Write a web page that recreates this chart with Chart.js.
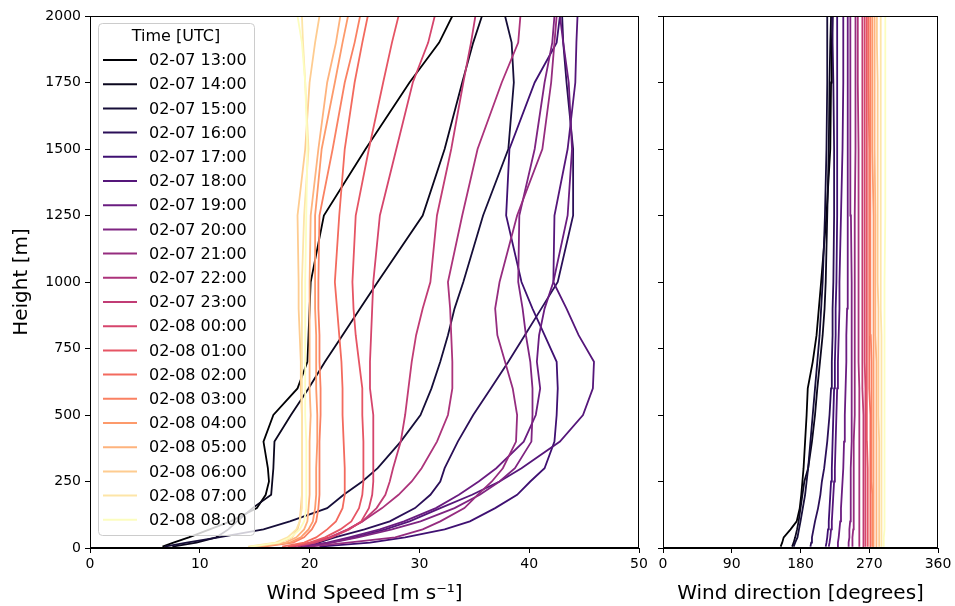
<!DOCTYPE html>
<html>
<head>
<meta charset="utf-8">
<script src="https://cdn.jsdelivr.net/npm/chart.js@4.4.0/dist/chart.umd.min.js"></script>
<style>
  html, body { margin: 0; padding: 0; background: #fff; }
  #wrap { position: relative; width: 955px; height: 606px; overflow: hidden; }
  #wrap canvas { position: absolute; top: 0; }
  #speedChart { left: 0; }
  #dirChart { left: 645px; }
</style>
</head>
<body>
<div id="wrap">
  <canvas id="speedChart" width="660" height="606"></canvas>
  <canvas id="dirChart" width="310" height="606"></canvas>
</div>
<script>
// profile times (legend order)
const timeLabels = [
    '02-07 13:00', '02-07 14:00', '02-07 15:00', '02-07 16:00', '02-07 17:00',
    '02-07 18:00', '02-07 19:00', '02-07 20:00', '02-07 21:00', '02-07 22:00',
    '02-07 23:00', '02-08 00:00', '02-08 01:00', '02-08 02:00', '02-08 03:00',
    '02-08 04:00', '02-08 05:00', '02-08 06:00', '02-08 07:00', '02-08 08:00',
];

// height levels [m]
const heights = [5, 20, 40, 70, 100, 150, 200, 250, 300, 400, 500, 600, 700, 800, 900, 1000, 1250, 1500, 1750, 1900, 2000];

// wind speed [m/s] at each height
const spd13 = [6.6, 7.6, 9.0, 10.9, 12.8, 15.2, 16.0, 16.3, 16.2, 15.8, 16.7, 18.9, 19.8, 19.9, 20.0, 20.1, 21.3, 25.1, 29.1, 31.8, 33.0];
const spd14 = [7.5, 9.7, 11.5, 12.6, 13.4, 14.8, 16.5, 16.6, 16.7, 16.8, 18.3, 19.9, 21.4, 23.0, 24.6, 26.2, 30.3, 32.3, 33.9, 34.9, 35.7];
const spd15 = [6.8, 8.8, 11.7, 15.8, 18.2, 21.6, 23.1, 24.8, 26.2, 28.3, 30.1, 31.1, 31.9, 32.6, 33.2, 34.0, 35.8, 38.1, 38.6, 38.4, 37.8];
const spd16 = [19.1, 20.8, 22.3, 25.0, 27.3, 29.6, 31.0, 31.9, 32.3, 33.5, 34.9, 36.5, 38.1, 39.6, 41.1, 42.6, 44.0, 44.0, 43.4, 43.1, 43.0];
const spd17 = [20.9, 25.5, 28.7, 32.3, 34.6, 36.9, 38.9, 40.1, 41.4, 42.3, 42.5, 42.6, 42.5, 41.4, 40.3, 39.3, 37.9, 38.2, 40.5, 42.5, 42.8];
const spd18 = [19.6, 21.9, 24.1, 26.9, 29.1, 31.9, 34.8, 37.3, 39.3, 42.8, 44.9, 45.8, 45.9, 44.5, 43.4, 42.2, 42.3, 43.5, 44.2, 44.3, 44.4];
const spd19 = [19.3, 21.6, 23.6, 26.4, 28.6, 31.5, 33.6, 35.4, 37.0, 39.5, 40.6, 41.0, 40.7, 40.9, 41.4, 42.2, 43.5, 43.9, 43.6, 43.1, 42.8];
const spd20 = [19.4, 22.0, 24.4, 27.5, 30.1, 33.2, 35.5, 37.3, 38.7, 40.2, 40.3, 40.3, 40.1, 39.7, 39.4, 39.0, 39.1, 40.5, 41.4, 42.1, 42.3];
const spd21 = [20.0, 23.5, 27.8, 30.3, 31.9, 34.1, 35.3, 36.6, 37.6, 38.8, 38.9, 38.5, 37.8, 37.1, 36.9, 37.3, 38.9, 41.2, 42.0, 42.3, 42.5];
const spd22 = [18.9, 20.5, 21.9, 23.5, 24.8, 26.6, 28.1, 29.3, 30.2, 31.6, 32.6, 33.0, 33.0, 32.9, 32.8, 32.6, 33.9, 35.3, 37.5, 39.0, 39.2];
const spd23 = [18.5, 20.1, 21.8, 23.5, 24.8, 26.1, 26.9, 27.3, 27.6, 28.3, 28.7, 29.0, 29.3, 29.7, 30.3, 31.0, 31.6, 32.9, 34.0, 34.7, 35.1];
const spd00 = [18.3, 20.5, 22.0, 23.6, 24.7, 25.4, 25.7, 25.8, 25.8, 25.8, 25.8, 25.5, 25.5, 25.6, 25.7, 25.8, 26.4, 27.9, 29.4, 30.8, 31.4];
const spd01 = [18.0, 20.0, 21.4, 22.8, 23.8, 24.5, 24.8, 24.9, 24.9, 24.9, 24.8, 24.8, 24.5, 24.2, 24.0, 23.9, 24.2, 25.4, 26.7, 27.5, 28.1];
const spd02 = [17.5, 19.5, 20.6, 21.6, 22.4, 23.0, 23.2, 23.2, 23.2, 23.1, 23.0, 23.0, 22.9, 22.7, 22.5, 22.3, 22.7, 23.2, 24.1, 24.8, 25.3];
const spd03 = [15.8, 18.5, 19.5, 20.2, 20.6, 20.8, 20.9, 20.9, 20.9, 20.9, 21.0, 21.0, 20.9, 20.9, 20.8, 20.8, 20.9, 22.1, 23.2, 24.1, 24.6];
const spd04 = [15.4, 18.2, 19.2, 19.9, 20.3, 20.5, 20.6, 20.6, 20.6, 20.7, 20.7, 20.6, 20.6, 20.6, 20.5, 20.5, 20.5, 21.1, 22.3, 23.0, 23.5];
const spd05 = [15.1, 17.8, 18.8, 19.5, 19.8, 19.9, 20.0, 20.0, 20.0, 20.0, 20.1, 20.0, 20.0, 20.0, 20.0, 20.0, 20.1, 20.8, 21.6, 22.4, 22.8];
const spd06 = [14.8, 17.3, 18.4, 18.9, 19.1, 19.2, 19.3, 19.3, 19.3, 19.3, 19.3, 19.2, 19.2, 19.1, 19.0, 19.0, 18.9, 19.6, 20.0, 20.5, 20.9];
const spd07 = [14.4, 16.9, 18.0, 18.8, 19.1, 19.3, 19.3, 19.3, 19.3, 19.3, 19.3, 19.3, 19.3, 19.3, 19.3, 19.3, 19.5, 19.9, 19.6, 19.4, 19.3];
const spd08 = [14.6, 17.2, 18.3, 19.1, 19.5, 19.7, 19.7, 19.7, 19.7, 19.7, 19.6, 19.6, 19.6, 19.6, 19.6, 19.6, 19.7, 19.8, 19.6, 19.3, 18.9];

// wind direction [deg] at each height
const dir13 = [154, 156, 158, 167, 175, 179, 181, 182.5, 184, 186, 188, 189.5, 196, 201, 204, 207, 214, 219, 220, 221, 222];
const dir14 = [169, 171, 173, 175.5, 177.5, 180, 182.5, 185, 190, 195, 199, 202, 205.5, 209, 211.5, 213, 215, 217, 218, 219, 220];
const dir15 = [171, 173, 176, 178, 180, 183, 186, 188, 190, 193, 196, 199, 202, 205, 207, 209, 212, 214, 215, 215, 215];
const dir16 = [193, 194, 195, 197, 199, 203, 206, 208, 211, 215, 218, 220, 221, 222, 222, 223, 224, 224, 223, 222, 222];
const dir17 = [213, 214, 215, 216, 217, 218, 219, 220, 221, 222, 223, 224, 225, 226, 226, 227, 228, 228, 228, 228, 228];
const dir18 = [217, 218, 219, 220, 221, 222, 223, 224, 225, 226, 227, 228, 229, 230, 231, 231, 233, 235, 236, 236, 236];
const dir19 = [228, 229, 230, 231, 232, 233, 234, 235, 236, 237, 238, 239, 240, 240, 241, 241, 242, 242, 242, 242, 242];
const dir20 = [243, 243, 244, 244, 245, 245, 246, 246, 246, 247, 247, 247, 247, 247, 247, 247, 246, 246, 245, 245, 245];
const dir21 = [248, 248, 248, 249, 249, 249, 250, 250, 250, 250, 251, 251, 251, 251, 251, 251, 251, 252, 252, 252, 252];
const dir22 = [257, 257, 257, 257, 257, 257, 257, 257, 257, 257, 257, 257, 256, 256, 256, 256, 256, 256, 255, 255, 255];
const dir23 = [263, 263, 263, 263, 263, 262, 262, 262, 262, 262, 262, 261, 261, 261, 261, 261, 261, 261, 261, 261, 261];
const dir00 = [265, 265, 265, 265, 265, 265, 265, 265, 265, 265, 265, 265, 264, 264, 264, 264, 264, 264, 264, 264, 264];
const dir01 = [268, 268, 268, 268, 268, 268, 268, 268, 268, 267, 267, 267, 267, 267, 267, 267, 267, 267, 267, 266, 266];
const dir02 = [272, 272, 272, 272, 272, 272, 271, 271, 271, 271, 271, 270, 270, 270, 270, 270, 270, 270, 269, 269, 269];
const dir03 = [274, 274, 274, 274, 274, 274, 274, 273, 273, 273, 273, 273, 273, 272, 272, 272, 272, 271, 271, 271, 271];
const dir04 = [276, 276, 276, 276, 276, 276, 276, 276, 276, 276, 276, 275, 275, 275, 275, 275, 275, 274, 274, 274, 274];
const dir05 = [280, 280, 280, 280, 280, 280, 279, 279, 279, 279, 279, 279, 279, 278, 278, 278, 278, 277, 277, 277, 277];
const dir06 = [283, 283, 283, 283, 283, 283, 283, 283, 283, 283, 282, 282, 282, 282, 282, 281, 281, 281, 281, 280, 280];
const dir07 = [286, 286, 286, 286, 286, 286, 286, 286, 286, 286, 286, 286, 286, 286, 285, 285, 285, 285, 285, 285, 285];
const dir08 = [289, 289, 289, 290, 290, 290, 290, 290, 290, 290, 290, 290, 290, 290, 290, 290, 291, 291, 291, 291, 291];

const speedProfiles = [spd13, spd14, spd15, spd16, spd17, spd18, spd19, spd20, spd21, spd22,
    spd23, spd00, spd01, spd02, spd03, spd04, spd05, spd06, spd07, spd08];
const dirProfiles = [dir13, dir14, dir15, dir16, dir17, dir18, dir19, dir20, dir21, dir22,
    dir23, dir00, dir01, dir02, dir03, dir04, dir05, dir06, dir07, dir08];

// magma colormap anchors
const MAGMA = ['#000004', '#140e36', '#3b0f70', '#641a80', '#8c2981', '#b73779',
    '#de4968', '#f7705c', '#fe9f6d', '#fecf92', '#fcfdbf'];

function hexToRgb(h) {
    return [1, 3, 5].map(i => parseInt(h.substr(i, 2), 16));
}

function magma(t) {
    const p = t * (MAGMA.length - 1);
    const i = Math.min(MAGMA.length - 2, Math.floor(p));
    const f = p - i;
    const a = hexToRgb(MAGMA[i]);
    const b = hexToRgb(MAGMA[i + 1]);
    const c = a.map((v, k) => Math.round(v + (b[k] - v) * f));
    return `rgb(${c[0]},${c[1]},${c[2]})`;
}

const lineColors = timeLabels.map((_, i) => magma(i / (timeLabels.length - 1)));

const FONT = 'DejaVu Sans, Liberation Sans, sans-serif';
Chart.defaults.font.family = FONT;
Chart.defaults.color = '#000';

function buildDatasets(profiles) {
    return profiles.map((vals, i) => ({
        label: timeLabels[i],
        data: heights.map((h, k) => ({ x: vals[k], y: h })),
        borderColor: lineColors[i],
        backgroundColor: lineColors[i],
        borderWidth: 1.8,
        pointRadius: 0,
        showLine: true,
        fill: false,
        // later profiles are drawn on top, like matplotlib
        order: profiles.length - 1 - i,
    }));
}

// full box around the plot area (all four spines)
const frameBox = {
    id: 'frameBox',
    afterDatasetsDraw(chart) {
        const { ctx, chartArea: a } = chart;
        ctx.save();
        ctx.strokeStyle = '#000';
        ctx.lineWidth = 1;
        ctx.strokeRect(Math.round(a.left) + 0.5, Math.round(a.top) + 0.5,
            Math.round(a.right - a.left) - 1, Math.round(a.bottom - a.top) - 1);
        ctx.restore();
    },
};

// matplotlib-like legend box inside the wind speed panel
const timeLegend = {
    id: 'timeLegend',
    afterDatasetsDraw(chart) {
        const { ctx, chartArea: a } = chart;
        const x0 = a.left + 8;
        const y0 = a.top + 7;
        const w = 156;
        const h = 512;
        ctx.save();
        ctx.beginPath();
        ctx.roundRect(x0 + 0.5, y0 + 0.5, w, h, 4);
        ctx.fillStyle = 'rgba(255,255,255,0.8)';
        ctx.fill();
        ctx.strokeStyle = '#cccccc';
        ctx.lineWidth = 1;
        ctx.stroke();

        ctx.fillStyle = '#000';
        ctx.font = `16px ${FONT}`;
        ctx.textBaseline = 'middle';
        ctx.textAlign = 'center';
        ctx.fillText('Time [UTC]', x0 + w / 2, y0 + 14);

        ctx.textAlign = 'left';
        chart.data.datasets.forEach((ds, i) => {
            const y = a.top + 44 + i * 24.2;
            ctx.beginPath();
            ctx.strokeStyle = ds.borderColor;
            ctx.lineWidth = 2;
            ctx.moveTo(x0 + 5, y);
            ctx.lineTo(x0 + 39, y);
            ctx.stroke();
            ctx.fillStyle = '#000';
            ctx.fillText(ds.label, x0 + 51, y + 1);
        });
        ctx.restore();
    },
};

function axisCommon(extra) {
    return Object.assign({
        type: 'linear',
        grid: { drawOnChartArea: false, drawTicks: true, tickLength: 5, color: '#000', lineWidth: 1 },
        border: { display: true, color: '#000', width: 1 },
    }, extra);
}

const tickFont = { size: 14, family: FONT };
const titleFont = { size: 20, family: FONT };

new Chart(document.getElementById('speedChart'), {
    type: 'scatter',
    data: { datasets: buildDatasets(speedProfiles) },
    options: {
        responsive: false,
        animation: false,
        events: [],
        layout: { padding: { top: 16, right: 21, bottom: 0, left: 0 } },
        plugins: { legend: { display: false }, tooltip: { enabled: false } },
        scales: {
            x: axisCommon({
                min: 0,
                max: 50,
                ticks: { stepSize: 10, font: tickFont, color: '#000', padding: 3, maxRotation: 0, callback: v => String(v) },
                title: { display: true, text: 'Wind Speed [m s⁻¹]', font: titleFont, color: '#000', padding: { top: 0, bottom: 0 } },
                afterFit(scale) { scale.height = 58; },
            }),
            y: axisCommon({
                min: 0,
                max: 2000,
                ticks: { stepSize: 250, font: tickFont, color: '#000', padding: 4, callback: v => String(v) },
                title: { display: true, text: 'Height [m]', font: titleFont, color: '#000', padding: { top: 10, bottom: 0 } },
                afterFit(scale) { scale.width = 90; },
            }),
        },
    },
    plugins: [frameBox, timeLegend],
});

new Chart(document.getElementById('dirChart'), {
    type: 'scatter',
    data: { datasets: buildDatasets(dirProfiles) },
    options: {
        responsive: false,
        animation: false,
        events: [],
        layout: { padding: { top: 16, right: 17, bottom: 0, left: 0 } },
        plugins: { legend: { display: false }, tooltip: { enabled: false } },
        scales: {
            x: axisCommon({
                min: 0,
                max: 360,
                ticks: { stepSize: 90, font: tickFont, color: '#000', padding: 3, maxRotation: 0, callback: v => String(v) },
                title: { display: true, text: 'Wind direction [degrees]', font: titleFont, color: '#000', padding: { top: 0, bottom: 0 } },
                afterFit(scale) { scale.height = 58; },
            }),
            y: axisCommon({
                min: 0,
                max: 2000,
                ticks: { stepSize: 250, display: false },
                afterFit(scale) { scale.width = 18; },
            }),
        },
    },
    plugins: [frameBox],
});
</script>
</body>
</html>
